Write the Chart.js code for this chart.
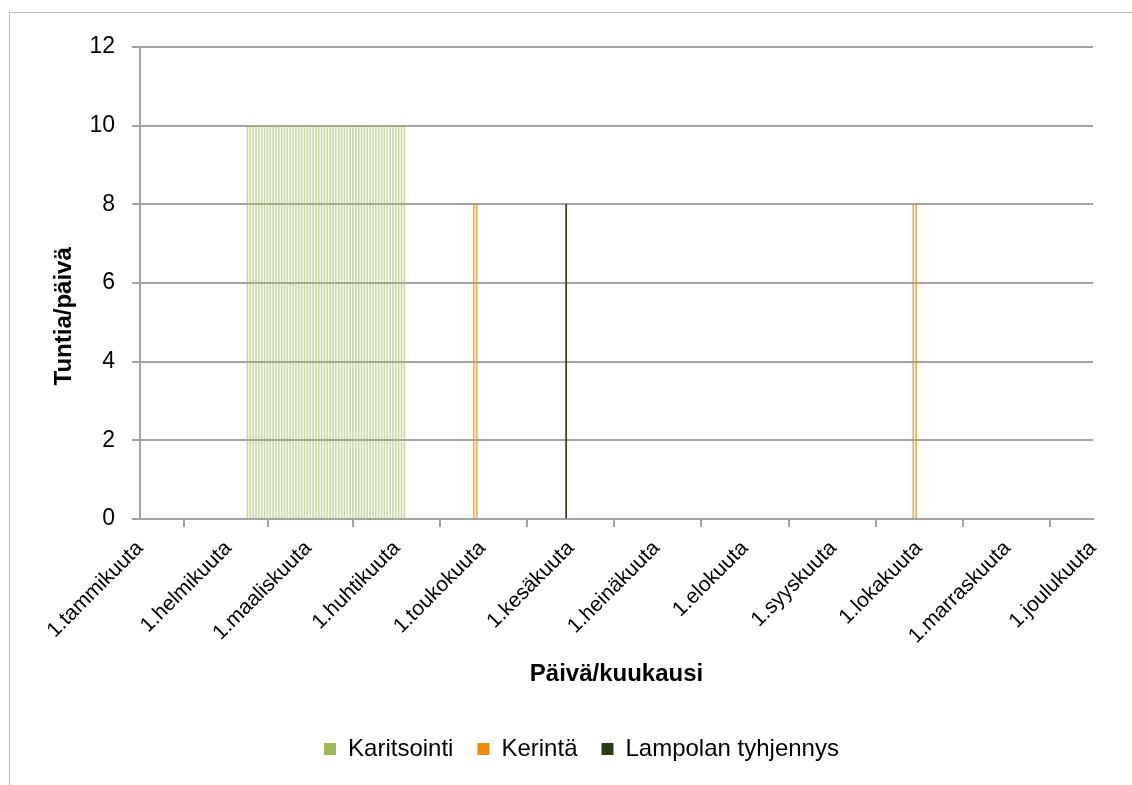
<!DOCTYPE html>
<html>
<head>
<meta charset="utf-8">
<script src="https://cdn.jsdelivr.net/npm/chart.js@4.4.1/dist/chart.umd.min.js"></script>
<style>
  body { margin: 0; background: #fff; overflow: hidden; }
  #frame { position: absolute; left: 9px; top: 12px; width: 1300px; height: 900px; border: 1px solid #bdbdbd; }
  #wrap { position: absolute; left: 0; top: 0; width: 1132px; height: 785px; }
</style>
</head>
<body>
<div id="frame"></div>
<div id="wrap"><canvas id="chart"></canvas></div>
<script>
// day of year (0 = 1. tammikuuta) where each month starts
const monthDays = [0, 31, 59, 90, 120, 151, 181, 212, 243, 273, 304, 334];
const monthLabels = ['1.tammikuuta', '1.helmikuuta', '1.maaliskuuta', '1.huhtikuuta', '1.toukokuuta', '1.kesäkuuta',
    '1.heinäkuuta', '1.elokuuta', '1.syyskuuta', '1.lokakuuta', '1.marraskuuta', '1.joulukuuta'];

// Karitsointi: every day from 8.2. to 4.4., 10 h/day
const karitsointiDays = [38, 39, 40, 41, 42, 43, 44, 45, 46, 47, 48, 49, 50, 51, 52, 53, 54, 55, 56, 57,
    58, 59, 60, 61, 62, 63, 64, 65, 66, 67, 68, 69, 70, 71, 72, 73, 74, 75, 76, 77,
    78, 79, 80, 81, 82, 83, 84, 85, 86, 87, 88, 89, 90, 91, 92, 93];
const karitsointiHours = [10, 10, 10, 10, 10, 10, 10, 10, 10, 10, 10, 10, 10, 10, 10, 10, 10, 10, 10, 10,
    10, 10, 10, 10, 10, 10, 10, 10, 10, 10, 10, 10, 10, 10, 10, 10, 10, 10, 10, 10,
    10, 10, 10, 10, 10, 10, 10, 10, 10, 10, 10, 10, 10, 10, 10, 10];

// Kerintä: spring and autumn shearing
const kerintaDays = [117, 118, 271, 272];
const kerintaHours = [8, 8, 8, 8];

// Lampolan tyhjennys
const lampolaDays = [149];
const lampolaHours = [8];

const yTicks = [0, 2, 4, 6, 8, 10, 12];

const seriesColors = { karitsointi: '#9bbb59', kerinta: '#f08a0c', lampola: '#2c3a17' };
const gridColor = '#a3a3a3';
const fontFamily = '"Liberation Sans", Arial, sans-serif';

function toPoints(days, hours) {
    return days.map((d, i) => ({ x: d, y: hours[i] }));
}

// legend sits a bit right of the canvas centre in the original
const legendShift = {
    id: 'legendShift',
    afterLayout: chart => {
        chart.legend.left += 35;
        chart.legend.right += 35;
    }
};

const ctx = document.getElementById('chart').getContext('2d');
new Chart(ctx, {
    type: 'bar',
    data: {
        datasets: [{
            label: 'Karitsointi',
            data: toPoints(karitsointiDays, karitsointiHours),
            backgroundColor: 'rgba(155,187,89,0.55)',
            barThickness: 1
        }, {
            label: 'Kerintä',
            data: toPoints(kerintaDays, kerintaHours),
            backgroundColor: 'rgba(240,138,12,0.7)',
            barThickness: 1
        }, {
            label: 'Lampolan tyhjennys',
            data: toPoints(lampolaDays, lampolaHours),
            backgroundColor: seriesColors.lampola,
            barThickness: 1
        }]
    },
    plugins: [legendShift],
    options: {
        responsive: true,
        maintainAspectRatio: false,
        animation: false,
        layout: { padding: { top: 47, right: 39, bottom: 14, left: 0 } },
        plugins: {
            tooltip: { enabled: false },
            legend: {
                position: 'bottom',
                labels: {
                    color: '#000',
                    font: { family: fontFamily, size: 24 },
                    boxWidth: 12,
                    boxHeight: 12,
                    padding: 24,
                    generateLabels: chart => {
                        const full = [seriesColors.karitsointi, seriesColors.kerinta, seriesColors.lampola];
                        return chart.data.datasets.map((ds, i) => ({
                            text: ds.label,
                            fillStyle: full[i],
                            strokeStyle: full[i],
                            lineWidth: 0,
                            datasetIndex: i,
                            fontColor: '#000'
                        }));
                    }
                }
            }
        },
        scales: {
            x: {
                type: 'linear',
                min: monthDays[0],
                max: monthDays[monthDays.length - 1],
                offset: false,
                afterBuildTicks: scale => {
                    scale.ticks = monthDays.map(v => ({ value: v }));
                },
                afterFit: scale => { scale.height = 194; },
                ticks: {
                    autoSkip: false,
                    maxRotation: 45,
                    minRotation: 45,
                    padding: 9,
                    color: '#000',
                    font: { family: fontFamily, size: 21 },
                    callback: v => monthLabels[monthDays.indexOf(v)]
                },
                grid: { drawOnChartArea: false, drawTicks: true, tickLength: 8, color: gridColor, lineWidth: 2 },
                border: { color: gridColor, width: 2 },
                title: {
                    display: true,
                    text: 'Päivä/kuukausi',
                    color: '#000',
                    font: { family: fontFamily, size: 24, weight: 'bold' },
                    padding: { top: 0, bottom: 24 }
                }
            },
            y: {
                min: 0,
                max: 12,
                afterBuildTicks: scale => {
                    scale.ticks = yTicks.map(v => ({ value: v }));
                },
                afterFit: scale => { scale.width = 140; },
                ticks: {
                    padding: 17,
                    color: '#000',
                    font: { family: fontFamily, size: 23 }
                },
                grid: { color: gridColor, lineWidth: 2, tickLength: 8 },
                border: { color: gridColor, width: 2 },
                title: {
                    display: true,
                    // trailing spaces push the title down like in the original
                    text: 'Tuntia/päivä          ',
                    color: '#000',
                    font: { family: fontFamily, size: 24, weight: 'bold' },
                    padding: { top: 50, bottom: 0 }
                }
            }
        }
    }
});
</script>
</body>
</html>
